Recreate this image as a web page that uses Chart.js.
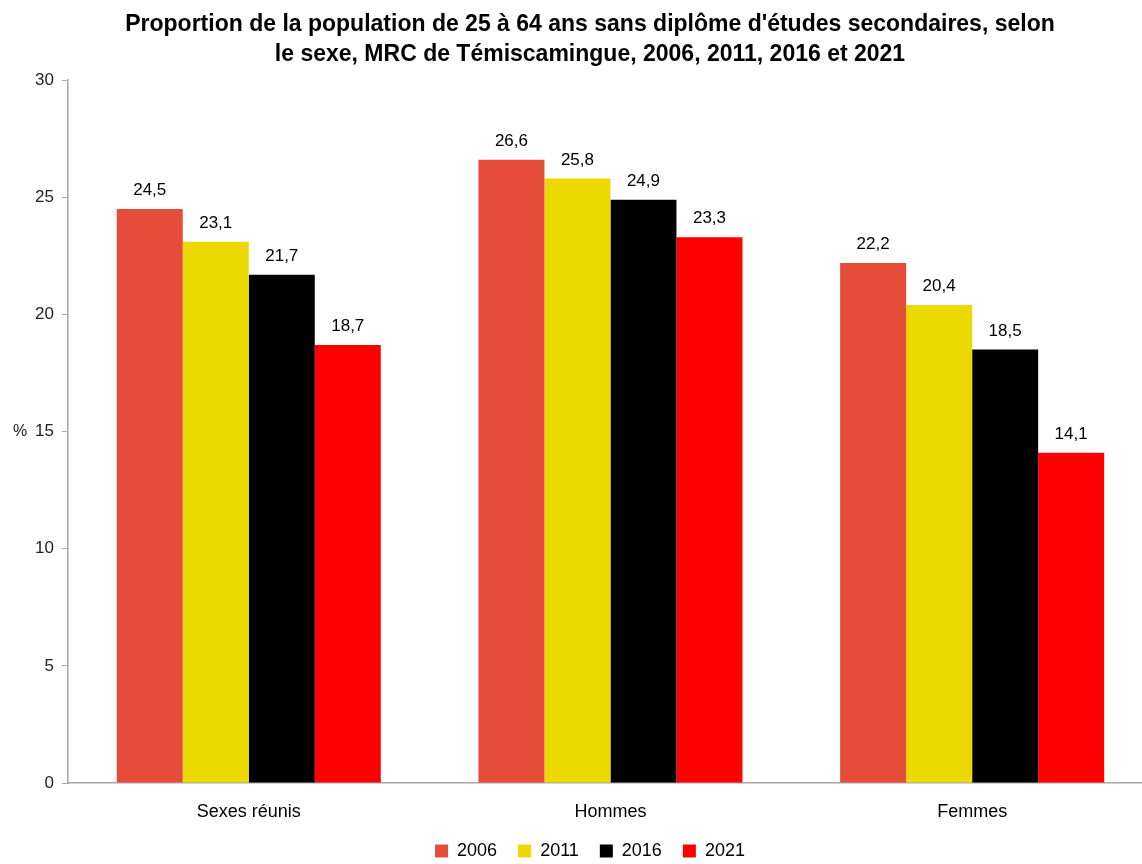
<!DOCTYPE html>
<html>
<head>
<meta charset="utf-8">
<script src="https://cdn.jsdelivr.net/npm/chart.js@4.4.1/dist/chart.umd.min.js"></script>
<style>
  html, body { margin: 0; padding: 0; background: #fff; overflow: hidden; }
  #wrap { width: 1160px; height: 870px; }
</style>
</head>
<body>
<div id="wrap"><canvas id="chart" width="1160" height="870"></canvas></div>
<script>
const categories = ['Sexes réunis', 'Hommes', 'Femmes'];
const years = ['2006', '2011', '2016', '2021'];
const values2006 = [24.5, 26.6, 22.2];
const values2011 = [23.1, 25.8, 20.4];
const values2016 = [21.7, 24.9, 18.5];
const values2021 = [18.7, 23.3, 14.1];
const colors = ['#E54D3A', '#EBD900', '#000000', '#FF0000'];
const yTicks = [0, 5, 10, 15, 20, 25, 30];

const FONT = "'Liberation Sans Narrow', 'Arial Narrow', 'Liberation Sans', sans-serif";

// value labels above bars, French decimal comma
const barLabels = {
  id: 'barLabels',
  afterDatasetsDraw(chart) {
    const ctx = chart.ctx;
    ctx.save();
    ctx.font = '17px ' + FONT;
    ctx.fillStyle = '#000';
    ctx.textAlign = 'center';
    ctx.textBaseline = 'bottom';
    chart.data.datasets.forEach((ds, i) => {
      chart.getDatasetMeta(i).data.forEach((bar, j) => {
        ctx.fillText(ds.data[j].toFixed(1).replace('.', ','), bar.x, bar.y - 10);
      });
    });
    ctx.restore();
  }
};

// the "%" unit sits left of the 15 tick
const unitLabel = {
  id: 'unitLabel',
  afterDraw(chart) {
    const ctx = chart.ctx;
    const y = chart.scales.y.getPixelForValue(15);
    ctx.save();
    ctx.font = '16px ' + FONT;
    ctx.fillStyle = '#222';
    ctx.textAlign = 'left';
    ctx.textBaseline = 'middle';
    ctx.fillText('%', 13, y);
    ctx.restore();
  }
};

const ctx = document.getElementById('chart').getContext('2d');
new Chart(ctx, {
  type: 'bar',
  data: {
    labels: categories,
    datasets: [values2006, values2011, values2016, values2021].map((d, i) => ({
      label: years[i],
      data: d,
      backgroundColor: colors[i],
      borderWidth: 0,
      categoryPercentage: 0.73,
      barPercentage: 1.0
    }))
  },
  options: {
    responsive: false,
    animation: false,
    layout: { padding: { left: 27, right: 7, top: 4, bottom: 0 } },
    plugins: {
      title: {
        display: true,
        text: ["Proportion de la population de 25 à 64 ans sans diplôme d'études secondaires, selon",
               'le sexe, MRC de Témiscamingue, 2006, 2011, 2016 et 2021'],
        color: '#000',
        font: { family: FONT, size: 23, weight: 'bold', lineHeight: 1.33 },
        padding: { top: 5, bottom: 10 }
      },
      legend: {
        position: 'bottom',
        labels: {
          color: '#000',
          font: { family: FONT, size: 18 },
          boxWidth: 13,
          boxHeight: 13,
          padding: 21
        }
      },
      tooltip: { enabled: false }
    },
    scales: {
      x: {
        afterFit: axis => { axis.height = 38; },
        grid: { display: false, drawTicks: false },
        border: { display: true, color: '#a6a6a6', width: 1.5 },
        ticks: { color: '#000', font: { family: FONT, size: 18, lineHeight: 1 }, padding: 20 }
      },
      y: {
        min: 0,
        max: 30,
        afterBuildTicks: axis => { axis.ticks = yTicks.map(v => ({ value: v })); },
        grid: { drawOnChartArea: false, drawTicks: true, tickLength: 6, color: '#a6a6a6' },
        border: { display: true, color: '#a6a6a6', width: 1.5 },
        ticks: { color: '#222', font: { family: FONT, size: 17 }, padding: 8 }
      }
    }
  },
  plugins: [barLabels, unitLabel]
});
</script>
</body>
</html>
